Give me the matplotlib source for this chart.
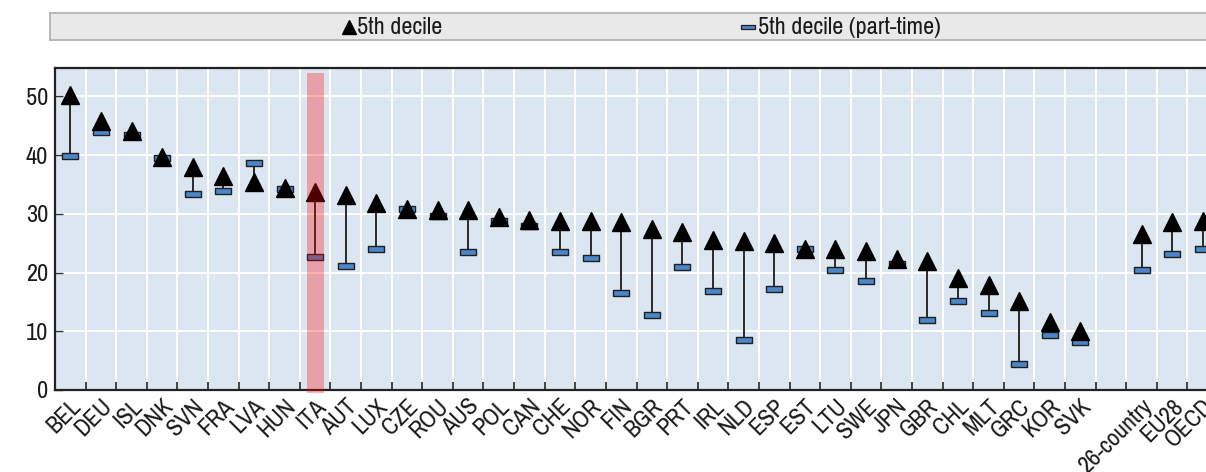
import matplotlib
matplotlib.use("Agg")
import matplotlib.pyplot as plt
from matplotlib.patches import Rectangle
import numpy as np

countries = ["BEL", "DEU", "ISL", "DNK", "SVN", "FRA", "LVA", "HUN", "ITA", "AUT",
             "LUX", "CZE", "ROU", "AUS", "POL", "CAN", "CHE", "NOR", "FIN", "BGR",
             "PRT", "IRL", "NLD", "ESP", "EST", "LTU", "SWE", "JPN", "GBR", "CHL",
             "MLT", "GRC", "KOR", "SVK"]
aggregates = ["26-country", "EU28", "OECD"]

decile5 = [50.2, 45.8, 44.1, 39.7, 38.0, 36.4, 35.4, 34.4, 33.7, 33.2,
           31.8, 30.8, 30.7, 30.7, 29.5, 29.0, 28.8, 28.8, 28.6, 27.5,
           26.9, 25.6, 25.4, 25.0, 24.0, 24.0, 23.6, 22.3, 21.9, 19.0,
           17.9, 15.1, 11.5, 10.1]
decile5_pt = [39.9, 44.0, 43.5, 39.5, 33.4, 33.9, 38.7, 34.3, 22.7, 21.2,
              24.1, 30.9, 29.6, 23.5, 28.8, 27.9, 23.5, 22.5, 16.6, 12.8,
              21.0, 16.8, 8.6, 17.2, 24.1, 20.4, 18.5, 21.4, 11.9, 15.1,
              13.2, 4.5, 9.4, 8.1]
agg_decile5 = [26.6, 28.7, 28.8]
agg_decile5_pt = [20.4, 23.1, 24.0]

highlight = "ITA"

labels = countries + [""] + aggregates
vals = decile5 + [np.nan] + agg_decile5
vals_pt = decile5_pt + [np.nan] + agg_decile5_pt
x = np.arange(len(labels))

FONT = ["Liberation Sans Narrow", "Pragati Narrow", "Archivo Narrow",
        "Liberation Sans", "DejaVu Sans"]
plt.rcParams["font.family"] = FONT
FS = 19

W, H = 1206, 472
fig = plt.figure(figsize=(W / 100, H / 100), dpi=100)
ax = fig.add_axes([55 / W, 1 - 390 / H, 1 - 55 / W + 0.01, (390 - 68) / H])
ax.set_facecolor("#dce6f1")
ax.set_xlim(-0.5, 37.15)
ax.set_ylim(0, 54.85)

ax.set_yticks(np.arange(0, 51, 10))
ax.set_xticks(np.arange(-0.5, len(labels), 1.0))
ax.set_xticks(x, minor=True)
ax.set_xticklabels([])
ax.set_xticklabels(labels, minor=True, rotation=45, ha="right", va="top",
                   rotation_mode="anchor", fontsize=FS, color="#1a1a1a")
ax.grid(True, which="major", color="white", lw=1.4)
ax.set_axisbelow(True)
ax.tick_params(axis="x", which="major", direction="in", length=6, width=1.3,
               color="#333333", labelbottom=False)
ax.tick_params(axis="x", which="minor", length=0, pad=4)
ax.tick_params(axis="y", direction="in", length=6, width=1.0, color="#333333",
               labelsize=FS, labelcolor="#1a1a1a", pad=5)

for s in ["left", "bottom", "top"]:
    ax.spines[s].set_color("#222222")
    ax.spines[s].set_linewidth(1.6)
ax.spines["right"].set_visible(False)

for xi, a, b in zip(x, vals, vals_pt):
    if np.isnan(a):
        continue
    ax.plot([xi, xi], [a, b], color="#2a2a2a", lw=1.4, zorder=3)

bar_marker = [(-1.5, -0.5), (1.5, -0.5), (1.5, 0.5), (-1.5, 0.5), (-1.5, -0.5)]
ax.plot(x, vals_pt, ls="none", marker=bar_marker, ms=11, mfc="#4a86c8",
        mec="#1f1f1f", mew=1.0, zorder=4)
ax.plot(x, vals, ls="none", marker="^", ms=13.5, mfc="black", mec="black",
        zorder=5)

hi = labels.index(highlight)
ax.add_patch(Rectangle((hi - 0.28, -0.5), 0.56, 54.55, facecolor="red",
                       alpha=0.3, edgecolor="none", zorder=6, clip_on=False))

lax = fig.add_axes([50 / W, 1 - 40 / H, 1 - 50 / W + 0.01, 27 / H])
lax.set_xlim(0, 1)
lax.set_ylim(0, 1)
lax.set_facecolor("#e9e9e9")
for s in ["left", "top", "bottom"]:
    lax.spines[s].set_color("#b3b3b3")
    lax.spines[s].set_linewidth(1.3)
lax.spines["right"].set_visible(False)
lax.set_xticks([])
lax.set_yticks([])


def fx(px):
    return (px - 50) / (W - 50)


lax.plot([fx(346)], [0.5], marker="^", ms=10, color="black", ls="none")
lax.text(fx(354), 0.45, "5th decile", fontsize=FS, va="center", ha="left",
         color="#1a1a1a")
lax.plot([fx(741)], [0.5], marker=bar_marker, ms=10, mfc="#4a86c8",
         mec="#1f1f1f", mew=0.9, ls="none")
lax.text(fx(751), 0.45, "5th decile (part-time)", fontsize=FS, va="center",
         ha="left", color="#1a1a1a")

fig.savefig("out.png", dpi=100)
